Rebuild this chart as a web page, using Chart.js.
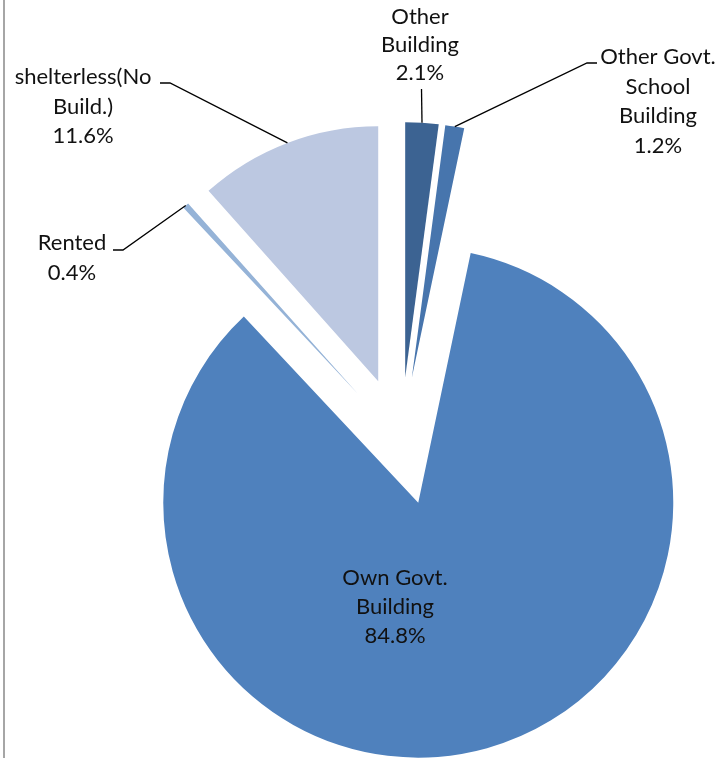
<!DOCTYPE html>
<html>
<head>
<meta charset="utf-8">
<script src="https://cdn.jsdelivr.net/npm/chart.js@4"></script>
<style>
  html, body { margin: 0; padding: 0; background: #fff; }
  #wrap { position: relative; width: 721px; height: 759px; }
  #edge { position: absolute; left: 3px; top: 0; width: 2px; height: 758px; background: #a6a6a6; }
  canvas { position: absolute; left: 0; top: 0; }
</style>
</head>
<body>
<div id="wrap">
  <canvas id="pie" width="721" height="759"></canvas>
  <div id="edge"></div>
</div>
<script>
// ---------- Data ----------
const categories = [
  ["Other", "Building"],
  ["Other Govt.", "School", "Building"],
  ["Own Govt.", "Building"],
  ["Rented"],
  ["shelterless(No", "Build.)"],
];
const shares = [2.1, 1.2, 84.8, 0.4, 11.6]; // %
const colors = ["#3c6392", "#4775ad", "#4f81bd", "#95b3d7", "#bcc8e1"];

// ---------- Label layout (text centre, line gap, leader elbow) ----------
const labelLayout = [
  { x: 420, y: 17, gap: 28, leader: [[421.5, 89]] },
  { x: 658, y: 57, gap: 29.5, leader: [[597, 63], [587, 63]] },
  { x: 395, y: 578, gap: 29, leader: null },
  { x: 72, y: 243, gap: 30, leader: [[113, 250], [123, 250]] },
  { x: 83, y: 77, gap: 29.5, leader: [[160, 83], [170, 83]] },
];
const EXPLODE = 64; // px each slice is pulled out

// push every slice out along its own mid angle
const explodePlugin = {
  id: "explode",
  afterDatasetsUpdate(chart) {
    chart.getDatasetMeta(0).data.forEach((arc) => {
      const mid = (arc.startAngle + arc.endAngle) / 2;
      arc.x += Math.cos(mid) * EXPLODE;
      arc.y += Math.sin(mid) * EXPLODE;
    });
  },
};

// data labels with leader lines
const labelPlugin = {
  id: "pieLabels",
  afterDatasetsDraw(chart) {
    const c = chart.ctx;
    const arcs = chart.getDatasetMeta(0).data;
    c.save();
    c.font = '22px "Lato", sans-serif';
    c.fillStyle = "#111";
    c.textAlign = "center";
    c.textBaseline = "middle";
    arcs.forEach((arc, i) => {
      const L = labelLayout[i];
      const lines = [...categories[i], shares[i].toFixed(1) + "%"];
      lines.forEach((t, k) => c.fillText(t, L.x, L.y + k * L.gap));
      if (!L.leader) return;
      const mid = (arc.startAngle + arc.endAngle) / 2;
      const ex = arc.x + Math.cos(mid) * arc.outerRadius;
      const ey = arc.y + Math.sin(mid) * arc.outerRadius;
      c.beginPath();
      c.strokeStyle = "#000";
      c.lineWidth = 1.3;
      c.moveTo(L.leader[0][0], L.leader[0][1]);
      for (let k = 1; k < L.leader.length; k++) c.lineTo(L.leader[k][0], L.leader[k][1]);
      c.lineTo(ex, ey);
      c.stroke();
    });
    c.restore();
  },
};

new Chart(document.getElementById("pie"), {
  type: "pie",
  data: {
    labels: categories,
    datasets: [
      {
        data: shares,
        backgroundColor: colors,
        borderWidth: 0,
        clip: false,
      },
    ],
  },
  options: {
    responsive: false,
    animation: false,
    radius: 255,
    layout: { padding: { left: 81, top: 123, right: 0, bottom: 0 } },
    plugins: { legend: { display: false }, tooltip: { enabled: false } },
  },
  plugins: [explodePlugin, labelPlugin],
});
</script>
</body>
</html>
